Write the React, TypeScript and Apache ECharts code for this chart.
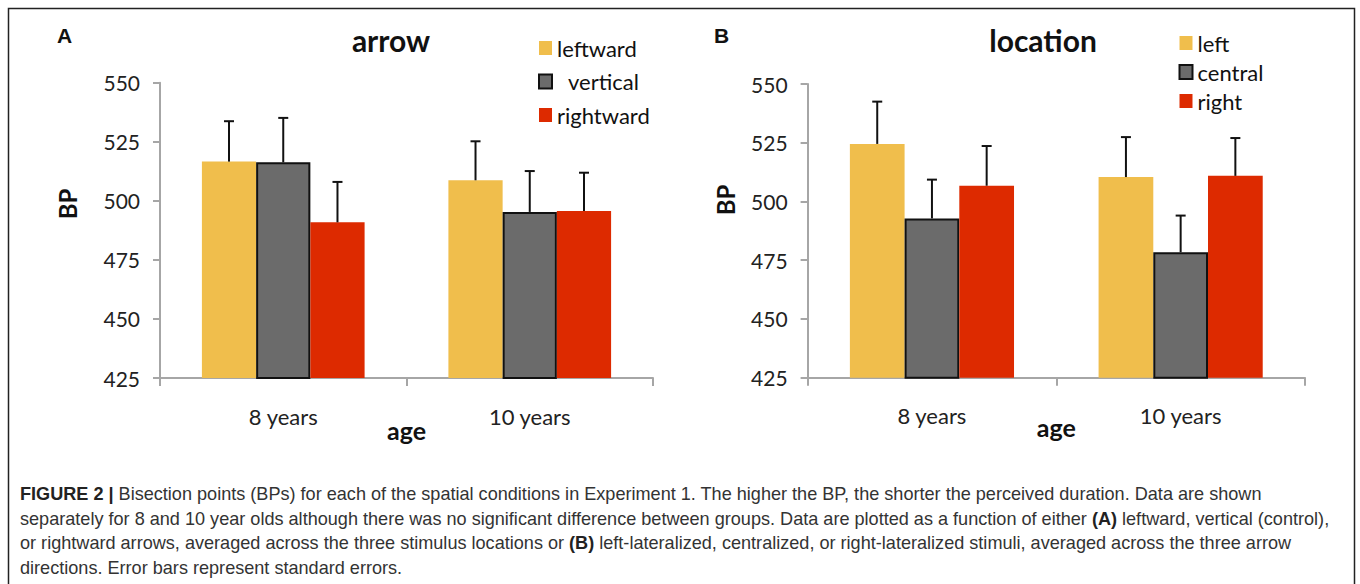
import React, { useEffect, useRef } from "react";
import * as echarts from "echarts";

const categories = ["8 years", "10 years"];
const yMin = 425;
const yMax = 550;
const yStep = 25;

const arrowNames = ["leftward", "vertical", "rightward"];
const arrowLeftward = [516.6, 508.7];
const arrowVertical = [516.3, 495.3];
const arrowRightward = [490.9, 495.7];
const arrowLeftwardErr = [17.1, 16.5];
const arrowVerticalErr = [18.8, 17.3];
const arrowRightwardErr = [17.1, 16.2];

const locationNames = ["left", "central", "right"];
const locationLeft = [524.5, 510.4];
const locationCentral = [492.8, 478.4];
const locationRight = [506.7, 510.9];
const locationLeftErr = [18.0, 17.0];
const locationCentralErr = [16.5, 15.6];
const locationRightErr = [16.9, 16.1];

const colors = ["#F0BE4C", "#6B6B6B", "#DD2A00"];

const captionLines = [
  "{b|FIGURE 2 |} Bisection points (BPs) for each of the spatial conditions in Experiment 1. The higher the BP, the shorter the perceived duration. Data are shown",
  "separately for 8 and 10 year olds although there was no significant difference between groups. Data are plotted as a function of either {b|(A)} leftward, vertical (control),",
  "or rightward arrows, averaged across the three stimulus locations or {b|(B)} left-lateralized, centralized, or right-lateralized stimuli, averaged across the three arrow",
  "directions. Error bars represent standard errors.",
];

const FONT = "Lato, 'Open Sans', sans-serif";
const CAPTION_FONT = "'Liberation Sans', Arial, sans-serif";
const CAT_GAP = 0.34;

function buildPanel(
  gi: number,
  names: string[],
  values: number[][],
  errs: number[][]
) {
  const series: any[] = names.map((name, k) => ({
    type: "bar",
    name,
    xAxisIndex: gi,
    yAxisIndex: gi,
    data: values[k],
    barGap: "0%",
    barCategoryGap: CAT_GAP * 100 + "%",
    itemStyle:
      k === 1
        ? { color: colors[k], borderColor: "#111", borderWidth: 2 }
        : { color: colors[k] },
  }));
  const errData: number[][] = [];
  names.forEach((_, k) => {
    values[k].forEach((v, c) => errData.push([c, v, errs[k][c], k]));
  });
  series.push({
    type: "custom",
    name: "SE" + gi,
    xAxisIndex: gi,
    yAxisIndex: gi,
    z: 10,
    encode: { x: 0, y: 1 },
    data: errData,
    renderItem: (params: any, api: any) => {
      const cat = api.value(0);
      const val = api.value(1);
      const err = api.value(2);
      const k = api.value(3);
      const base = api.coord([cat, val]);
      const top = api.coord([cat, val + err]);
      const band = api.size([1, 0])[0];
      const bw = (band * (1 - CAT_GAP)) / 3;
      const x = base[0] + (k - 1) * bw;
      const st = { stroke: "#111", lineWidth: 2 };
      return {
        type: "group",
        children: [
          { type: "line", shape: { x1: x, y1: base[1], x2: x, y2: top[1] }, style: st },
          { type: "line", shape: { x1: x - 5, y1: top[1], x2: x + 5, y2: top[1] }, style: st },
        ],
      };
    },
  });
  return series;
}

export default function App() {
  const ref = useRef<HTMLDivElement>(null);
  useEffect(() => {
    if (!ref.current) return;
    const chart = echarts.init(ref.current, undefined, { renderer: "svg" });
    const axisGray = "#A6A6A6";
    const xAxisBase = (gi: number) => ({
      type: "category",
      gridIndex: gi,
      data: categories,
      name: "age",
      nameLocation: "middle",
      nameGap: gi === 0 ? 39 : 37,
      nameMoveOverlap: false,
      nameTextStyle: { fontFamily: FONT, fontSize: 25, fontWeight: "bold", color: "#111" },
      axisLine: { lineStyle: { color: axisGray, width: 2 } },
      axisTick: { show: true, length: 8, lineStyle: { color: axisGray, width: 2 } },
      axisLabel: { fontFamily: FONT, fontSize: 22, color: "#222", margin: 27 },
    });
    const yAxisBase = (gi: number) => ({
      type: "value",
      gridIndex: gi,
      min: yMin,
      max: yMax,
      interval: yStep,
      splitLine: { show: false },
      axisLine: { show: true, lineStyle: { color: axisGray, width: 2 } },
      axisTick: { show: true, length: 7, lineStyle: { color: axisGray, width: 2 } },
      axisLabel: { fontFamily: FONT, fontSize: 21, color: "#222", margin: 20 },
    });
    const legendBase = {
      orient: "vertical",
      icon: "rect",
      itemWidth: 13,
      itemHeight: 14,
      textStyle: { fontFamily: FONT, fontSize: 22, color: "#111", lineHeight: 22 },
    };
    const option: any = {
      animation: false,
      backgroundColor: "#fff",
      grid: [
        { left: 160, top: 82.7, width: 493, height: 295.3 },
        { left: 807.6, top: 84, width: 497.4, height: 293.7 },
      ],
      xAxis: [xAxisBase(0), xAxisBase(1)],
      yAxis: [yAxisBase(0), yAxisBase(1)],
      legend: [
        {
          ...legendBase,
          left: 533,
          top: 32,
          itemGap: 11.5,
          data: [
            { name: "leftward" },
            { name: "vertical", textStyle: { padding: [0, 0, 0, 11] } },
            { name: "rightward" },
          ],
        },
        {
          ...legendBase,
          left: 1173.5,
          top: 27,
          itemGap: 7,
          data: locationNames,
        },
      ],
      series: [
        ...buildPanel(
          0,
          arrowNames,
          [arrowLeftward, arrowVertical, arrowRightward],
          [arrowLeftwardErr, arrowVerticalErr, arrowRightwardErr]
        ),
        ...buildPanel(
          1,
          locationNames,
          [locationLeft, locationCentral, locationRight],
          [locationLeftErr, locationCentralErr, locationRightErr]
        ),
      ],
      graphic: [
        {
          type: "rect",
          shape: { x: 8.5, y: 8.5, width: 1346, height: 620 },
          style: { fill: "none", stroke: "#222", lineWidth: 1.5 },
          silent: true,
          z: -1,
        },
        {
          type: "text", x: 57, y: 35.5,
          style: { text: "A", font: "bold 21px " + CAPTION_FONT, fill: "#111", verticalAlign: "middle" },
        },
        {
          type: "text", x: 714, y: 35.5,
          style: { text: "B", font: "bold 21px " + CAPTION_FONT, fill: "#111", verticalAlign: "middle" },
        },
        {
          type: "text", x: 391, y: 39.5,
          style: { text: "arrow", font: "bold 30px " + FONT, fill: "#111", align: "center", verticalAlign: "middle" },
        },
        {
          type: "text", x: 1043, y: 39.5,
          style: { text: "location", font: "bold 30px " + FONT, fill: "#111", align: "center", verticalAlign: "middle" },
        },
        {
          type: "text", x: 67, y: 204, rotation: Math.PI / 2,
          style: { text: "BP", font: "bold 24px " + FONT, fill: "#111", align: "center", verticalAlign: "middle" },
        },
        {
          type: "text", x: 725.5, y: 200, rotation: Math.PI / 2,
          style: { text: "BP", font: "bold 24px " + FONT, fill: "#111", align: "center", verticalAlign: "middle" },
        },
        ...captionLines.map((t, i) => ({
          type: "text",
          x: 20,
          y: 494 + i * 24.5,
          style: {
            text: t,
            font: "18.1px " + CAPTION_FONT,
            fill: "#333",
            verticalAlign: "middle",
            rich: {
              b: { font: "bold 18.1px " + CAPTION_FONT, fill: "#222" },
            },
          },
        })),
      ],
    };
    chart.setOption(option);
    return () => chart.dispose();
  }, []);
  return (
    <div
      ref={ref}
      style={{ position: "fixed", left: 0, top: 0, width: 1360, height: 584, background: "#fff" }}
    />
  );
}
